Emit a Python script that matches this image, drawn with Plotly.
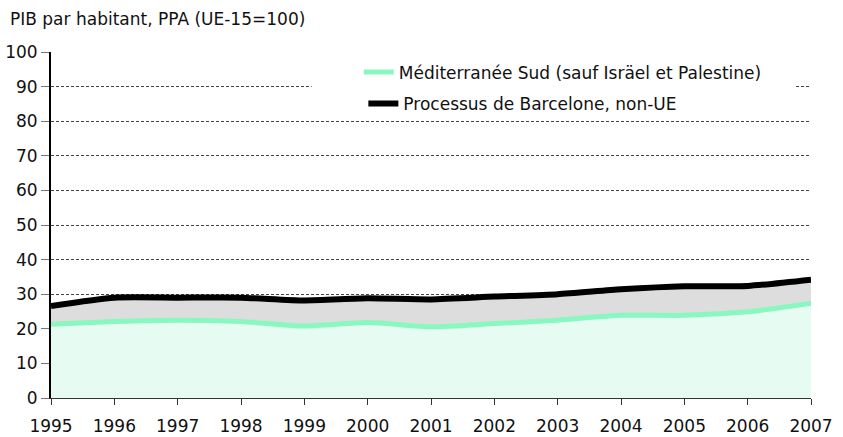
import plotly.graph_objects as go

years = list(range(1995, 2008))
med_sud = [21.3, 22.1, 22.5, 22.1, 20.8, 21.8, 20.6, 21.5, 22.5, 23.9, 23.9, 24.9, 27.4]
barcelone = [26.6, 29.0, 29.0, 29.0, 28.2, 28.8, 28.5, 29.3, 30.0, 31.4, 32.3, 32.4, 34.2]
name_med = "Méditerranée Sud (sauf Isräel et Palestine)"
name_bar = "Processus de Barcelone, non-UE"
title_text = "PIB par habitant, PPA (UE-15=100)"

GREEN = "#88f8c0"
FILL_GREEN = "#e6fcf3"
FILL_GRAY = "#dddddd"
FONT = "DejaVu Sans, Verdana, sans-serif"
FS = 17

fig = go.Figure()
# fills
fig.add_trace(go.Scatter(x=years, y=med_sud, mode="lines", line=dict(width=0, shape="spline", smoothing=0.6),
                         fill="tozeroy", fillcolor=FILL_GREEN, showlegend=False, hoverinfo="skip"))
fig.add_trace(go.Scatter(x=years, y=barcelone, mode="lines", line=dict(width=0, shape="spline", smoothing=0.6),
                         fill="tonexty", fillcolor=FILL_GRAY, showlegend=False, hoverinfo="skip"))
# lines
fig.add_trace(go.Scatter(x=years, y=med_sud, mode="lines", name=name_med,
                         line=dict(color=GREEN, width=5, shape="spline", smoothing=0.6), legend="legend"))
fig.add_trace(go.Scatter(x=years, y=barcelone, mode="lines", name=name_bar,
                         line=dict(color="#000000", width=6, shape="spline", smoothing=0.6), legend="legend2"))

fig.update_layout(
    width=843, height=437,
    margin=dict(l=51, r=32, t=52, b=39, autoexpand=False),
    paper_bgcolor="white", plot_bgcolor="white",
    font=dict(family=FONT, size=FS, color="#111111"),
    showlegend=True,
    legend=dict(x=0.405, y=0.993, xanchor="left", yanchor="top", bgcolor="rgba(0,0,0,0)",
                borderwidth=0, font=dict(size=FS, color="#111111")),
    legend2=dict(x=0.411, y=0.902, xanchor="left", yanchor="top", bgcolor="rgba(0,0,0,0)",
                 borderwidth=0, font=dict(size=FS, color="#111111")),
    shapes=[dict(type="rect", xref="paper", yref="paper", x0=0.343, x1=0.979, y0=0.818, y1=0.977,
                 fillcolor="white", line=dict(width=0), layer="above")],
    annotations=[dict(text=title_text, xref="paper", yref="paper", x=-0.057, y=1.0, yshift=33,
                      xanchor="left", yanchor="middle", showarrow=False,
                      font=dict(size=FS, color="#111111", family=FONT))],
)
fig.update_xaxes(range=[1995, 2007], tickmode="array", tickvals=years, ticktext=[str(y) for y in years],
                 showgrid=False, showline=True, linecolor="#333333", linewidth=1,
                 ticks="outside", ticklen=6, tickcolor="#333333", zeroline=False,
                 ticklabelstandoff=7, automargin=False,
                 tickfont=dict(size=FS, color="#111111"))
fig.update_yaxes(range=[0, 100], tickmode="array", tickvals=list(range(0, 101, 10)),
                 showgrid=True, gridcolor="#444444", griddash="3px,2px", gridwidth=1,
                 showline=True, linecolor="#000000", linewidth=2,
                 ticks="outside", ticklen=8, tickcolor="#777777", zeroline=False,
                 automargin=False,
                 tickfont=dict(size=FS, color="#111111"))

fig.write_html("out.html", config={"displayModeBar": False},
               post_script="document.body.style.margin='0';document.body.style.padding='0';")
